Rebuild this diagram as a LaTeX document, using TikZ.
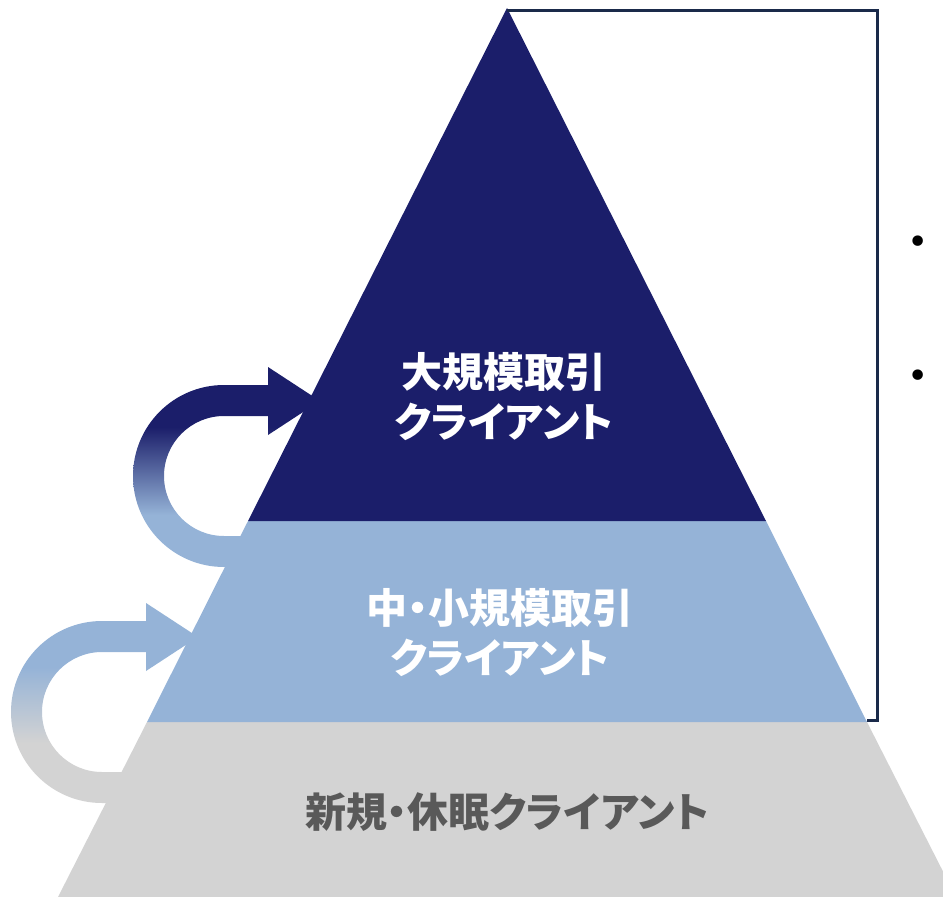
\documentclass[tikz,border=0pt]{standalone}
\usepackage{fontspec}
\newfontfamily\jp{Noto Sans CJK JP}[RawFeature=+palt]
\newfontfamily\symfont{DejaVu Sans}
\definecolor{navy}{HTML}{1B1E6A}
\definecolor{lightblue}{HTML}{95B3D7}
\definecolor{lightgray}{HTML}{D3D3D3}
\definecolor{darkgraytext}{HTML}{595959}
\definecolor{bracketcol}{HTML}{1A2A4A}
\pgfdeclareverticalshading{arrowupper}{100bp}{color(0bp)=(lightblue); color(38bp)=(lightblue); color(60bp)=(navy); color(100bp)=(navy)}
\pgfdeclareverticalshading{arrowlower}{100bp}{color(0bp)=(lightgray); color(40bp)=(lightgray); color(59bp)=(lightblue); color(100bp)=(lightblue)}
\tikzset{
  tierlabel/.style={align=center, inner sep=0pt, font=\jp\bfseries\fontsize{41}{50}\selectfont},
  bracketline/.style={draw=bracketcol, line width=3pt, line join=miter},
  bulletmark/.style={inner sep=0pt, font=\symfont\fontsize{36}{36}\selectfont},
}
\begin{document}
\begin{tikzpicture}[x=1pt, y=-1pt]
\useasboundingbox (0,0) rectangle (943,897);
\clip (0,0) rectangle (943,897);
% curved arrow 1 (middle -> top tier)
\shade[shading=arrowupper]
  (262,567) -- (224,567) arc[start angle=90, end angle=270, radius=91]
  -- (268,385) -- (268,367) -- (320,401) -- (268,435) -- (268,416) -- (224,416)
  arc[start angle=270, end angle=90, radius=60] -- (262,536) -- cycle;
% curved arrow 2 (new -> middle tier)
\shade[shading=arrowlower]
  (140,803) -- (102,803) arc[start angle=90, end angle=270, radius=91]
  -- (146,621) -- (146,603) -- (198,637) -- (146,671) -- (146,652) -- (102,652)
  arc[start angle=270, end angle=90, radius=60] -- (140,772) -- cycle;
% pyramid tiers
\fill[lightgray] (147,722) -- (867,722) -- (956,897) -- (58,897) -- cycle;
\fill[lightblue] (248,521) -- (766,521) -- (867,722) -- (147,722) -- cycle;
\fill[navy] (507,8) -- (766,521) -- (248,521) -- cycle;
\coordinate (apex) at (507,10);
\coordinate (corner) at (867,720);
% bracket
\draw[bracketline] (apex) -- (877,10) -- (877,720) -- (corner);
% labels
\node[tierlabel, text=white] (top) at (504,397) {大規模取引\\クライアント};
\node[tierlabel, text=white] (mid) at (500,633) {中・小規模取引\\クライアント};
\node[tierlabel, text=darkgraytext] (bot) at (507,812) {新規・休眠クライアント};
% bullets
\node[bulletmark] (b1) at (918,245) {•};
\node[bulletmark] (b2) at (918,379) {•};
\end{tikzpicture}
\end{document}
